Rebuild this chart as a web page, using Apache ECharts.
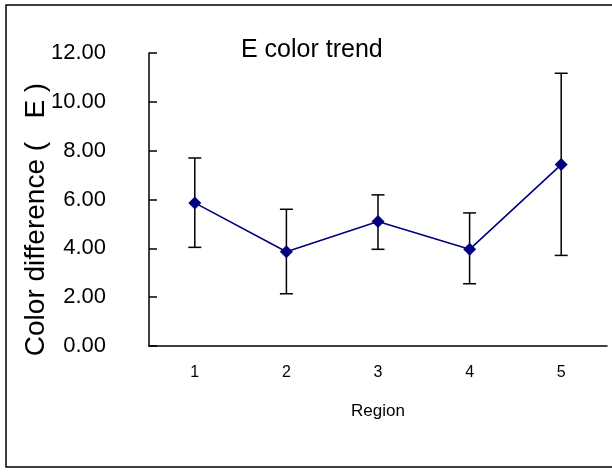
<!DOCTYPE html>
<html>
<head>
<meta charset="utf-8">
<script src="https://cdn.jsdelivr.net/npm/echarts@6/dist/echarts.min.js"></script>
<style>
html,body{margin:0;padding:0;background:#fff;}
#chart{width:612px;height:472px;}
</style>
</head>
<body>
<div id="chart"></div>
<script>
var categories = ['1', '2', '3', '4', '5'];
var meanValues = [5.86, 3.86, 5.10, 3.96, 7.43];
var upperValues = [7.70, 5.60, 6.19, 5.45, 11.17];
var lowerValues = [4.04, 2.14, 3.96, 2.55, 3.71];

var errorData = categories.map(function (c, i) { return [i, lowerValues[i], upperValues[i]]; });

var chart = echarts.init(document.getElementById('chart'), null, {renderer: 'canvas'});
var font = 'Arial, "Liberation Sans", sans-serif';
chart.setOption({
  animation: false,
  backgroundColor: '#fff',
  title: {
    text: 'E color trend',
    left: 241, top: 38, padding: 0,
    textStyle: {fontFamily: font, fontSize: 25, fontWeight: 'normal', color: '#000'}
  },
  graphic: [{
    type: 'rect', z: -1,
    shape: {x: 6, y: 5, width: 620, height: 462},
    style: {fill: 'none', stroke: '#000', lineWidth: 1.5}
  }],
  grid: {left: 149, top: 53, width: 458, height: 293, containLabel: false},
  xAxis: {
    type: 'category',
    data: categories,
    boundaryGap: true,
    name: 'Region',
    nameLocation: 'middle',
    nameGap: 57,
    nameMoveOverlap: false,
    nameTextStyle: {fontFamily: font, fontSize: 17, color: '#000'},
    axisLine: {lineStyle: {color: '#000', width: 1.5}},
    axisTick: {inside: true, length: 5, lineStyle: {color: '#000', width: 1.5}},
    axisLabel: {fontFamily: font, fontSize: 16, color: '#000', margin: 19},
    splitLine: {show: false}
  },
  yAxis: {
    type: 'value',
    min: 0, max: 12, interval: 2,
    name: 'Color difference (   E )',
    nameLocation: 'middle',
    nameGap: 99,
    nameMoveOverlap: false,
    nameRotate: 90,
    nameTextStyle: {fontFamily: font, fontSize: 28, color: '#000', padding: [0, 40, 0, 0]},
    axisLine: {show: true, lineStyle: {color: '#000', width: 1.5}},
    axisTick: {show: true, inside: true, length: 8, lineStyle: {color: '#000', width: 1.5}},
    axisLabel: {fontFamily: font, fontSize: 22, color: '#000', margin: 43,
      formatter: function (v) { return v.toFixed(2); }},
    splitLine: {show: false}
  },
  series: [{
    type: 'custom',
    z: 1,
    data: errorData,
    renderItem: function (params, api) {
      var x = api.value(0);
      var lo = api.coord([x, api.value(1)]);
      var hi = api.coord([x, api.value(2)]);
      var hw = 6.5;
      var st = {stroke: '#000', lineWidth: 1.5, fill: 'none'};
      return {
        type: 'group',
        children: [
          {type: 'line', shape: {x1: lo[0], y1: lo[1], x2: hi[0], y2: hi[1]}, style: st},
          {type: 'line', shape: {x1: lo[0] - hw, y1: lo[1], x2: lo[0] + hw, y2: lo[1]}, style: st},
          {type: 'line', shape: {x1: hi[0] - hw, y1: hi[1], x2: hi[0] + hw, y2: hi[1]}, style: st}
        ]
      };
    }
  }, {
    type: 'line',
    z: 3,
    data: meanValues,
    symbol: 'diamond',
    symbolSize: [13, 13],
    lineStyle: {color: '#000080', width: 1.6},
    itemStyle: {color: '#000080'}
  }]
});
</script>
</body>
</html>
